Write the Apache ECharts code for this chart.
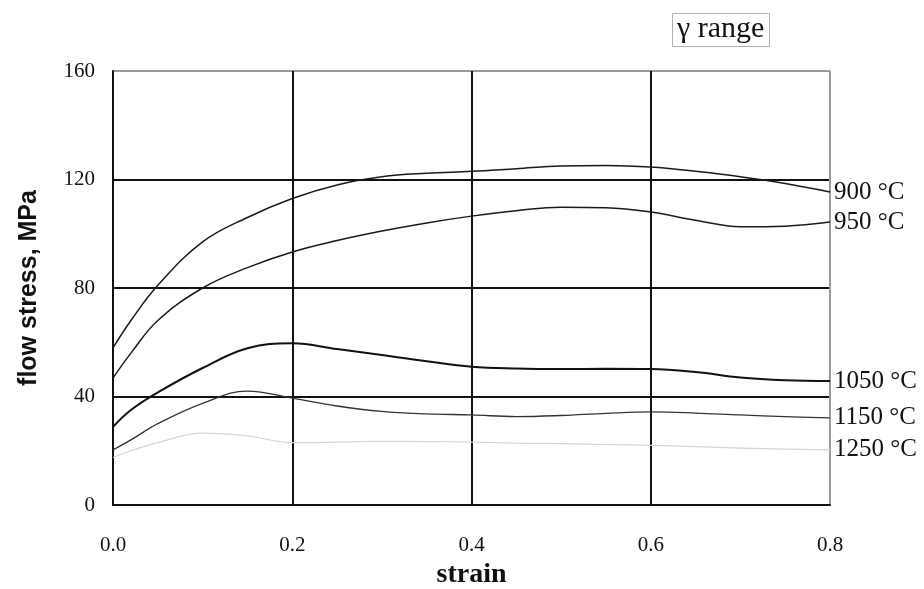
<!DOCTYPE html>
<html>
<head>
<meta charset="utf-8">
<script src="https://cdn.jsdelivr.net/npm/echarts@6/dist/echarts.min.js"></script>
<style>
  html, body { margin: 0; padding: 0; background: #fff; }
  #chart { width: 924px; height: 589px; }
</style>
</head>
<body>
<div id="chart"></div>
<script>
// Flow stress vs. strain at several deformation temperatures (γ range)
const strain = [0.0, 0.02, 0.05, 0.1, 0.15, 0.2, 0.25, 0.3, 0.35, 0.4, 0.45, 0.5, 0.55, 0.6, 0.65, 0.7, 0.75, 0.8];

const s900  = [57.9, 68, 81, 97, 106, 113, 118, 121, 122.3, 123, 124, 125, 125.2, 124.6, 123, 121, 118.5, 115.4];
const s950  = [46.8, 56, 68, 80, 87.5, 93.3, 97.5, 101, 104, 106.5, 108.5, 109.8, 109.6, 108, 105, 102.6, 102.8, 104.3];
const s1050 = [28.8, 35, 41.5, 50.5, 57.8, 59.6, 57.5, 55.3, 53, 51, 50.3, 50.1, 50.2, 50.1, 49, 47, 46, 45.7];
const s1150 = [20.3, 24, 30, 37.5, 42, 39.4, 36.5, 34.5, 33.6, 33.2, 32.6, 33, 33.8, 34.3, 33.9, 33.2, 32.6, 32.1];
const s1250 = [17.5, 20, 23, 26.5, 25.5, 23, 23.2, 23.5, 23.4, 23.2, 22.8, 22.6, 22.3, 22, 21.5, 21, 20.6, 20.3];

const seriesNames = ['900 °C', '950 °C', '1050 °C', '1150 °C', '1250 °C'];
const seriesValues = [s900, s950, s1050, s1150, s1250];
const lineColors = ['#1a1a1a', '#1a1a1a', '#111111', '#333333', '#d4d4d4'];
const lineWidths = [1.5, 1.5, 2, 1.3, 1.2];

const yTicks = [0, 40, 80, 120, 160];
const xTicks = [0.0, 0.2, 0.4, 0.6, 0.8];

const serif = '"Liberation Serif", "DejaVu Serif", serif';
const sans = '"Liberation Sans", Arial, sans-serif';

const chart = echarts.init(document.getElementById('chart'), null, { renderer: 'canvas' });

chart.setOption({
  backgroundColor: '#ffffff',
  animation: false,
  title: {
    text: 'γ range',
    left: 672,
    top: 14,
    padding: [1, 5, 3, 5],
    borderColor: '#b0b0b0',
    borderWidth: 1,
    textStyle: { fontFamily: serif, fontSize: 30, lineHeight: 28, fontWeight: 'normal', color: '#111' }
  },
  grid: { left: 113, right: 94, top: 71, bottom: 84, containLabel: false, outerBoundsMode: 'none' },
  xAxis: {
    type: 'value',
    min: xTicks[0],
    max: xTicks[xTicks.length - 1],
    interval: 0.2,
    name: 'strain',
    nameLocation: 'middle',
    nameGap: 52,
    nameTextStyle: { fontFamily: serif, fontSize: 28, fontWeight: 'bold', color: '#111' },
    axisLine: { show: true, lineStyle: { color: '#111', width: 2 } },
    axisTick: { show: false },
    axisLabel: {
      margin: 30,
      fontFamily: serif, fontSize: 21, color: '#111',
      formatter: v => v.toFixed(1)
    },
    splitLine: { show: true, lineStyle: { color: ['#111', '#111', '#111', '#111', '#9a9a9a'], width: 2 } }
  },
  yAxis: {
    type: 'value',
    min: yTicks[0],
    max: yTicks[yTicks.length - 1],
    interval: 40,
    name: 'flow stress, MPa',
    nameLocation: 'middle',
    nameGap: 71,
    nameTextStyle: { fontFamily: sans, fontSize: 25, fontWeight: 'bold', color: '#111' },
    axisLine: { show: true, lineStyle: { color: '#111', width: 2 } },
    axisTick: { show: false },
    axisLabel: { margin: 18, fontFamily: serif, fontSize: 21, color: '#111' },
    splitLine: { show: true, lineStyle: { color: ['#111', '#111', '#111', '#111', '#9a9a9a'], width: 2 } }
  },
  series: seriesNames.map((name, i) => ({
    name: name,
    type: 'line',
    smooth: 0.4,
    symbol: 'none',
    data: strain.map((x, k) => [x, seriesValues[i][k]]),
    lineStyle: { color: lineColors[i], width: lineWidths[i] },
    endLabel: {
      show: true,
      formatter: '{a}',
      distance: 4,
      fontFamily: serif,
      fontSize: 25,
      color: '#111'
    },
    z: 3
  }))
});
</script>
</body>
</html>
